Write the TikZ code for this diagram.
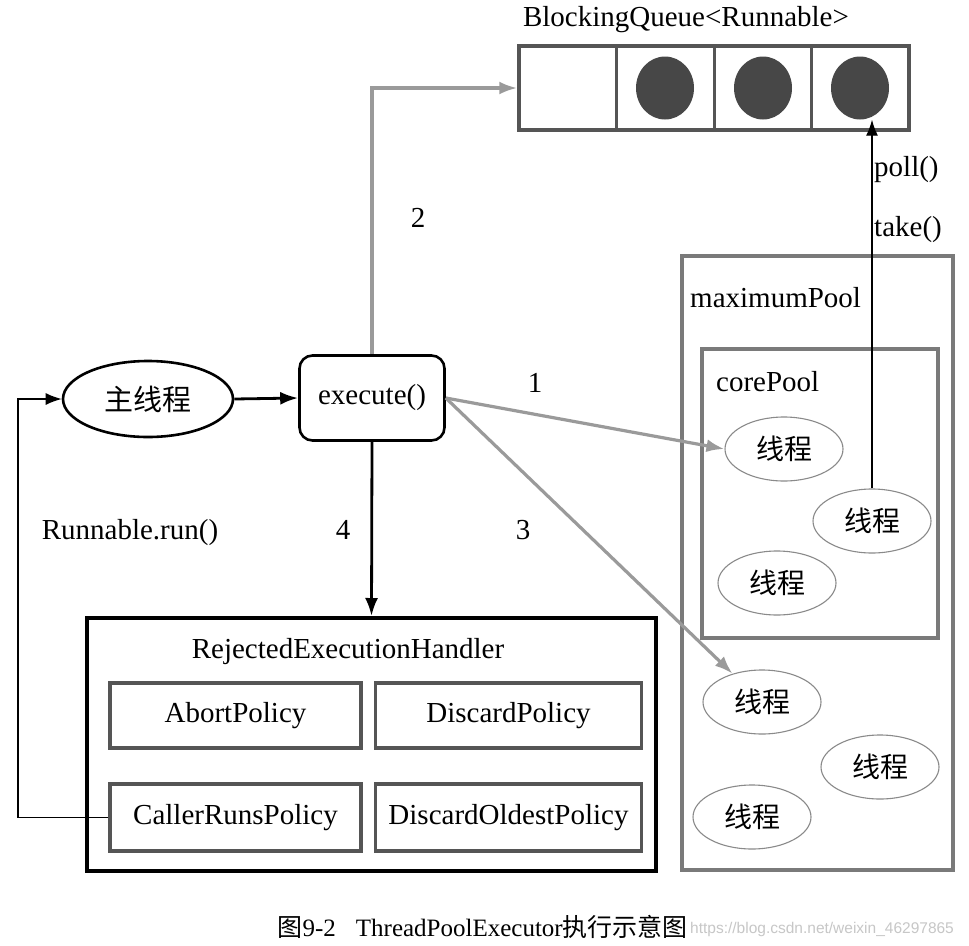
\documentclass[tikz,border=0pt]{standalone}
\usepackage{fontspec}
\setmainfont{Liberation Serif}
\newfontfamily\cjk{Noto Sans CJK SC}
\newfontfamily\wmfont{Liberation Sans}
\usetikzlibrary{arrows.meta,shapes.geometric}
\definecolor{arrowgray}{HTML}{9A9A9A}
\definecolor{boxgray}{HTML}{555555}
\definecolor{poolgray}{HTML}{7A7A7A}
\definecolor{ballgray}{HTML}{474747}
\definecolor{threadgray}{HTML}{8A8A8A}
\tikzset{
  txt/.style={font=\fontsize{29}{33}\selectfont, inner sep=0pt},
  ball/.style={ellipse, fill=ballgray, minimum width=58, minimum height=63, inner sep=0pt},
  thread/.style={ellipse, draw=threadgray, line width=1.1pt, minimum width=118, minimum height=64, inner sep=0pt, font=\fontsize{28}{32}\selectfont\cjk},
  policy/.style={rectangle, draw=boxgray, line width=3.5pt, minimum height=65, inner sep=0pt, font=\fontsize{29}{33}\selectfont},
  grayarrow/.style={draw=arrowgray, line width=3.2pt, -{Latex[length=18pt,width=13pt]}},
  blackarrow/.style={draw=black, line width=2.8pt, -{Latex[length=18pt,width=13pt]}},
  thinarrow/.style={draw=black, line width=1.3pt, -{Latex[length=16pt,width=12pt]}},
}
\begin{document}
\begin{tikzpicture}[x=1pt, y=-1pt]
\useasboundingbox (0,0) rectangle (969,945);
\fill[white] (0,0) rectangle (969,945);

% queue
\node[txt] (qtitle) at (686,20) {BlockingQueue<Runnable>};
\node[rectangle, draw=boxgray, line width=3.5pt, minimum width=390, minimum height=84, inner sep=0pt] (q) at (714,88) {};
\draw[boxgray, line width=3pt] (616.5,46) -- (616.5,130) (714,46) -- (714,130) (811.5,46) -- (811.5,130);
\node[ball] (c1) at (665,88) {};
\node[ball] (c2) at (763,88) {};
\node[ball] (c3) at (860,88) {};

% main thread and execute
\node[ellipse, draw=black, line width=2.6pt, minimum width=170, minimum height=76, inner sep=0pt, font=\fontsize{29}{33}\selectfont\cjk] (main) at (148,399) {主线程};
\node[rectangle, rounded corners=13pt, draw=black, line width=2.6pt, minimum width=145, minimum height=85, inner sep=0pt, font=\fontsize{29}{33}\selectfont] (exec) at (372,398) {execute()};

% pools
\node[rectangle, draw=poolgray, line width=4pt, minimum width=271, minimum height=614, inner sep=0pt] (maxpool) at (817.5,563) {};
\node[txt, anchor=west] (maxlabel) at (690,298) {maximumPool};
\node[rectangle, draw=poolgray, line width=3.5pt, minimum width=236, minimum height=289, inner sep=0pt] (corepool) at (820,493.5) {};
\node[txt, anchor=west] (corelabel) at (716,382) {corePool};

\node[thread] (t1) at (784,449) {线程};
\node[thread] (t2) at (872,521) {线程};
\node[thread] (t3) at (777,583) {线程};
\node[thread] (t4) at (762,702) {线程};
\node[thread] (t5) at (880,767) {线程};
\node[thread] (t6) at (752,817) {线程};

% handler
\node[rectangle, draw=black, line width=4pt, minimum width=569, minimum height=253, inner sep=0pt] (reh) at (371.5,744.5) {};
\node[txt] (rehlabel) at (348,652) {RejectedExecutionHandler};
\node[policy, minimum width=251] (abort) at (235.5,715.5) {AbortPolicy};
\node[policy, minimum width=266] (discard) at (508.5,715.5) {DiscardPolicy};
\node[policy, minimum width=251, minimum height=67] (caller) at (235.5,817.5) {CallerRunsPolicy};
\node[policy, minimum width=266, minimum height=67] (oldest) at (508.5,817.5) {DiscardOldestPolicy};

% connectors
\draw[blackarrow] (main.east) -- (exec.west);
\draw[grayarrow] (exec.north) |- (q.west);
\draw[grayarrow] (exec.east) -- (t1.west);
\draw[grayarrow] (exec.east) -- (t4);
\draw[blackarrow] (exec.south) -- (reh.north);
\draw[thinarrow] (t2.north) -- (t2.north |- c3.south);
\coordinate (fb) at (18,817.5);
\draw[thinarrow] (caller.west) -- (fb) |- (main.west);

% labels
\node[txt] (l2) at (418,218) {2};
\node[txt] (l1) at (535,383) {1};
\node[txt] (l3) at (523,530) {3};
\node[txt] (l4) at (343,530) {4};
\node[txt] (lrun) at (130,533) {Runnable.run()};
\node[txt, anchor=west] (lpoll) at (874,170) {poll()};
\node[txt, anchor=west] (ltake) at (874,230) {take()};

% caption
\node[inner sep=0pt, anchor=east, font=\fontsize{25}{30}\selectfont] (cap) at (688,927) {{\cjk 图}9-2\hspace{0.8em}ThreadPoolExecutor{\cjk 执行示意图}};
\node[inner sep=0pt, anchor=west, text=black!22, font=\fontsize{15.5}{18}\selectfont\wmfont] (wm) at (690,929) {https://blog.csdn.net/weixin\_46297865};
\end{tikzpicture}
\end{document}
